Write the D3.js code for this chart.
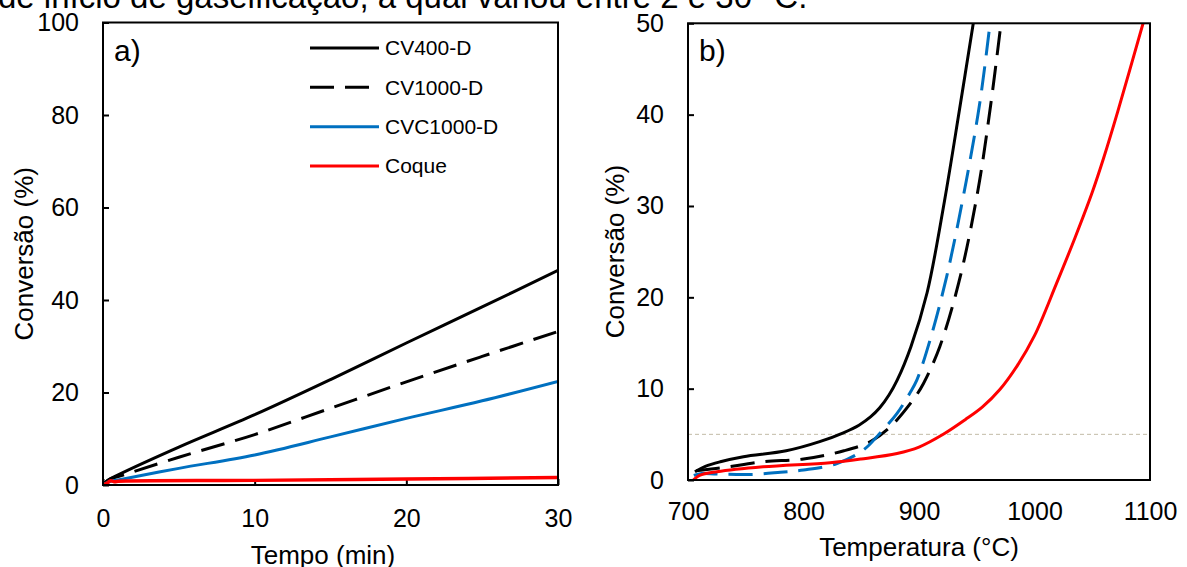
<!DOCTYPE html>
<html>
<head>
<meta charset="utf-8">
<script src="https://cdn.jsdelivr.net/npm/d3@7"></script>
<style>
    body { margin: 0; background: #fff; }
    svg { display: block; font-family: "Liberation Sans", Arial, sans-serif; }
</style>
</head>
<body>
<svg width="1187" height="567"></svg>
<script>
// series names, same order in both panels
const seriesNames = ["CV400-D", "CV1000-D", "CVC1000-D", "Coque"];

// a) conversion vs time (min)
const tempoCV400 = [[0, 0], [0.3, 1.0], [1, 2.2], [5, 8.2], [10, 15.2], [15, 22.8], [20, 30.7], [25, 38.5], [30, 46.4]];
const tempoCV1000 = [[0, 0], [0.4, 1.2], [1, 1.8], [5, 6.0], [10, 10.9], [15, 16.6], [20, 22.3], [25, 27.8], [30, 33.2]];
const tempoCVC1000 = [[0, 0], [0.5, 0.8], [1, 1.1], [5, 3.6], [10, 6.5], [15, 10.4], [20, 14.4], [25, 18.2], [30, 22.4]];
const tempoCoque = [[0, 0], [0.3, 0.5], [0.5, 0.9], [0.8, 0.7], [1, 0.8], [10, 1.0], [20, 1.3], [30, 1.6]];

// b) conversion vs temperature (°C)
const tempCV400 = [[706, 0.9], [715, 1.5], [728, 2.0], [748, 2.55], [785, 3.2], [814, 4.2], [835, 5.2], [848, 6.0], [858, 6.9], [866, 7.9], [874, 9.3], [881, 10.9], [893, 14.6], [907, 20.5], [922, 30.5], [935, 40.5], [947, 50]];
const tempCV1000 = [[707, 1.0], [720, 1.2], [733, 1.4], [765, 2.0], [800, 2.3], [835, 3.2], [858, 4.2], [875, 5.8], [895, 8.8], [904, 10.6], [918, 14.6], [935, 21.9], [951, 31.7], [962, 41], [971, 50]];
const tempCVC1000 = [[705, 0.5], [712, 0.7], [725, 0.65], [757, 0.62], [780, 0.85], [800, 1.1], [829, 1.8], [852, 3.3], [866, 5.1], [881, 7.3], [892, 9.5], [898, 10.9], [909.5, 15.3], [924, 22.3], [941, 32.8], [953, 41.6], [961.5, 50]];
const tempCoque = [[704.6, 0], [710, 0.5], [725, 0.9], [765, 1.45], [823, 1.9], [850, 2.3], [881, 2.9], [900, 3.6], [921, 5.0], [940, 6.6], [955, 8.0], [970, 9.9], [985, 12.5], [1000, 15.8], [1019, 21.5], [1035, 26.5], [1050, 31.5], [1060, 35.3], [1072, 40.3], [1094, 50]];

const refLine = 5;

const tempoTicks = [0, 10, 20, 30];
const convTicksA = [0, 20, 40, 60, 80, 100];
const tempTicks = [700, 800, 900, 1000, 1100];
const convTicksB = [0, 10, 20, 30, 40, 50];

const topText = "de início de gaseificação, a qual variou entre 2 e 30 °C.";

const svg = d3.select("svg");

// line of the page text above the figure, cut by the window top
svg.append("text")
    .attr("x", -2)
    .attr("y", 8)
    .style("font-size", "33px")
    .attr("fill", "#000")
    .text(topText);

function drawPanel(opt) {
    let x = d3.scaleLinear().domain(opt.xDomain).range(opt.xRange);
    let y = d3.scaleLinear().domain(opt.yDomain).range(opt.yRange);
    let g = svg.append("g");

    let xAxis = d3.axisBottom(x)
        .tickValues(opt.xTicks)
        .tickFormat(d3.format("d"))
        .tickSize(opt.xTickSize)
        .tickPadding(opt.xPad);
    let yAxis = d3.axisLeft(y)
        .tickValues(opt.yTicks)
        .tickFormat(d3.format("d"))
        .tickSize(-6)
        .tickPadding(24);

    let gx = g.append("g")
        .attr("transform", "translate(0," + opt.yRange[0] + ")")
        .call(xAxis);
    let gy = g.append("g")
        .attr("transform", "translate(" + opt.xRange[0] + ",0)")
        .call(yAxis);
    [gx, gy].forEach(a => {
        a.select(".domain").remove();
        a.selectAll("line").attr("stroke", "#000").attr("stroke-width", 2);
        a.selectAll("text")
            .attr("fill", "#000")
            .style("font-size", "25px")
            .style("font-family", "'Liberation Sans', Arial, sans-serif");
    });

    let clipId = "clip" + opt.name;
    g.append("clipPath").attr("id", clipId)
        .append("rect")
        .attr("x", opt.xRange[0])
        .attr("y", opt.yRange[1])
        .attr("width", opt.xRange[1] - opt.xRange[0])
        .attr("height", opt.yRange[0] - opt.yRange[1]);

    if (opt.ref !== undefined) {
        g.append("line")
            .attr("x1", opt.xRange[0])
            .attr("x2", opt.xRange[1])
            .attr("y1", y(opt.ref))
            .attr("y2", y(opt.ref))
            .attr("stroke", "#c2bba6")
            .attr("stroke-width", 1)
            .attr("stroke-dasharray", "4,3");
    }

    let line = d3.line()
        .x(d => x(d[0]))
        .y(d => y(d[1]))
        .curve(d3.curveCatmullRom.alpha(0.5));

    g.append("g")
        .attr("clip-path", "url(#" + clipId + ")")
        .selectAll("path")
        .data(opt.series)
        .join("path")
        .attr("d", d => line(d.values))
        .attr("fill", "none")
        .attr("stroke", d => d.color)
        .attr("stroke-width", d => d.width)
        .attr("stroke-dasharray", d => d.dash);

    // frame
    g.append("rect")
        .attr("x", opt.xRange[0])
        .attr("y", opt.yRange[1])
        .attr("width", opt.xRange[1] - opt.xRange[0])
        .attr("height", opt.yRange[0] - opt.yRange[1])
        .attr("fill", "none")
        .attr("stroke", "#000")
        .attr("stroke-width", 2);

    g.append("text")
        .attr("x", opt.xRange[0] + 11)
        .attr("y", 61)
        .style("font-size", "30px")
        .text(opt.name + ")");

    g.append("text")
        .attr("x", opt.xTitleX)
        .attr("y", opt.xTitleY)
        .attr("text-anchor", "middle")
        .style("font-size", "26px")
        .text(opt.xTitle);

    g.append("text")
        .attr("transform", "translate(" + opt.yTitleX + "," + (opt.yRange[0] + opt.yRange[1]) / 2 + ") rotate(-90)")
        .attr("text-anchor", "middle")
        .style("font-size", "26px")
        .text("Conversão (%)");

    return g;
}

let panelA = drawPanel({
    name: "a",
    xDomain: [0, 30], xRange: [103, 558],
    yDomain: [0, 100], yRange: [485, 22.5],
    xTicks: tempoTicks, yTicks: convTicksA,
    xTickSize: -6, xPad: 24,
    xTitle: "Tempo (min)", xTitleX: 323, xTitleY: 564,
    yTitleX: 33,
    series: [
        {values: tempoCV400, color: "#000", width: 3, dash: null},
        {values: tempoCV1000, color: "#000", width: 3, dash: "24,11"},
        {values: tempoCVC1000, color: "#0070c0", width: 3, dash: null},
        {values: tempoCoque, color: "#ff0000", width: 3.5, dash: null}
    ]
});

drawPanel({
    name: "b",
    xDomain: [700, 1100], xRange: [688, 1150],
    yDomain: [0, 50], yRange: [480, 23.3],
    xTicks: tempTicks, yTicks: convTicksB,
    xTickSize: 0, xPad: 22,
    xTitle: "Temperatura (°C)", xTitleX: 919, xTitleY: 556,
    yTitleX: 624,
    ref: refLine,
    series: [
        {values: tempCV400, color: "#000", width: 3, dash: null},
        {values: tempCV1000, color: "#000", width: 3, dash: "24,11"},
        {values: tempCVC1000, color: "#0070c0", width: 3, dash: "24,11"},
        {values: tempCoque, color: "#ff0000", width: 3, dash: null}
    ]
});

// legend in panel a
const legendStyles = [
    {color: "#000", dash: null},
    {color: "#000", dash: "24,11"},
    {color: "#0070c0", dash: null},
    {color: "#ff0000", dash: null}
];
const legendY = d3.scalePoint().domain(seriesNames).range([48, 166]);
let legend = panelA.append("g")
    .selectAll("g")
    .data(seriesNames)
    .join("g")
    .attr("transform", d => "translate(310," + legendY(d) + ")");
legend.append("line")
    .attr("x1", 0)
    .attr("x2", 69)
    .attr("stroke", (d, i) => legendStyles[i].color)
    .attr("stroke-width", 3)
    .attr("stroke-dasharray", (d, i) => legendStyles[i].dash);
legend.append("text")
    .attr("x", 75)
    .attr("dy", "0.35em")
    .style("font-size", "21px")
    .text(d => d);
</script>
</body>
</html>
